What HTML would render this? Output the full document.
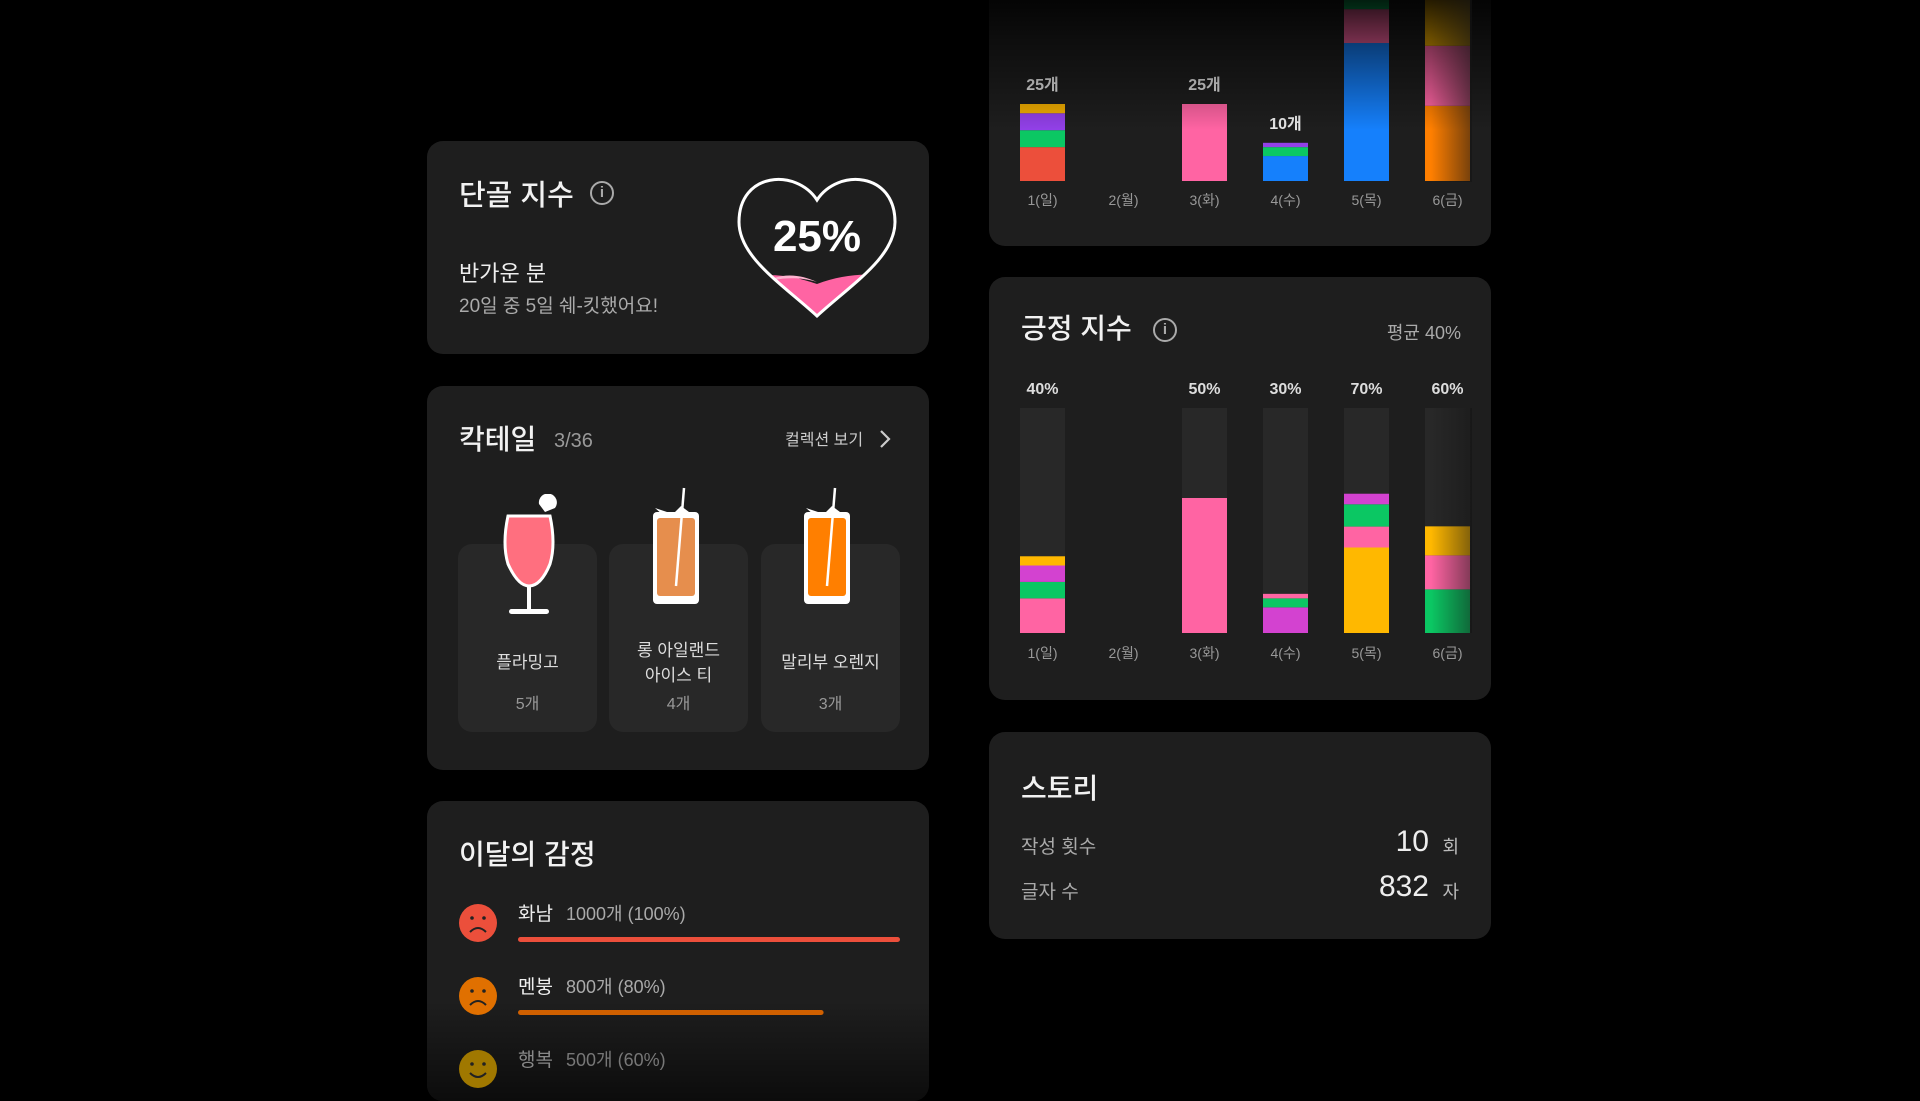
<!DOCTYPE html>
<html><head><meta charset="utf-8">
<style>
*{margin:0;padding:0;box-sizing:border-box}
body{width:1920px;height:1080px;background:#000;overflow:hidden;position:relative;font-family:"Liberation Sans","Noto Sans CJK KR",sans-serif;color:#fff}
.card{position:absolute;background:#1e1e1e;border-radius:16px;overflow:hidden}
.abs{position:absolute;white-space:nowrap}
.title{font-size:28px;color:#f2f2f2;font-weight:500}
.info{position:absolute;width:24px;height:24px;border:2px solid #aaa;border-radius:50%;color:#aaa;font-size:15px;text-align:center;line-height:20px;font-weight:bold}
.tile{position:absolute;top:158px;width:139px;height:188px;background:#282828;border-radius:14px}
.tname{position:absolute;width:139px;text-align:center;font-size:17px;color:#ddd;line-height:25px}
.tcnt{position:absolute;width:139px;text-align:center;font-size:16px;color:#999}
svg text{font-family:"Liberation Sans","Noto Sans CJK KR",sans-serif}
</style></head><body>

<!-- top chart card -->
<div class="card" style="left:989px;top:-20px;width:502px;height:266px;border-radius:0 0 16px 16px">
  <svg id="chart1" width="502" height="266" style="position:absolute;left:0;top:0"></svg>
  <div style="position:absolute;left:0;top:0;width:502px;height:150px;background:linear-gradient(#000 0%,rgba(0,0,0,0.55) 40%,rgba(0,0,0,0) 100%)"></div>
  <div style="position:absolute;left:442px;top:0;width:41px;height:202px;background:linear-gradient(90deg,rgba(30,30,30,0),rgba(20,20,20,0.6))"></div>
</div>

<!-- card 1 -->
<div class="card" style="left:427px;top:141px;width:502px;height:213px">
  <div class="abs title" style="left:32px;top:31px;font-size:29px">단골 지수</div>
  <div class="abs" style="left:163px;top:40px;width:24px;height:24px;border:2px solid #aaa;border-radius:50%;color:#aaa;font-size:15px;text-align:center;line-height:20px;font-weight:bold">i</div>
  <div class="abs" style="left:32px;top:115px;font-size:22px;color:#eee">반가운 분</div>
  <div class="abs" style="left:32px;top:150px;font-size:19px;color:#aaa">20일 중 5일 쉐-킷했어요!</div>
  <svg style="position:absolute;left:307px;top:31px" width="166" height="150">
    <defs><clipPath id="hc"><path d="M83,28 C62,-4 5,0 5,50 C5,85 48,112 83,144 C118,112 161,85 161,50 C161,0 104,-4 83,28 Z"/></clipPath></defs>
    <g clip-path="url(#hc)">
      <path d="M0,108 C30,100 55,102 83,112 C110,102 135,100 166,106 L166,150 L0,150 Z" fill="#ff64a3"/>
      <path d="M40,106 C55,101 70,104 83,110 C70,106 55,105 40,108Z" fill="#ffb3d0"/>
    </g>
    <path d="M83,28 C62,-4 5,0 5,50 C5,85 48,112 83,144 C118,112 161,85 161,50 C161,0 104,-4 83,28 Z" fill="none" stroke="#fff" stroke-width="3"/>
    <text x="83" y="79" text-anchor="middle" font-size="44" font-weight="bold" fill="#fff">25%</text>
  </svg>
</div>

<!-- cocktail card -->
<div class="card" style="left:427px;top:386px;width:502px;height:384px">
  <div class="abs title" style="left:32px;top:32px">칵테일</div>
  <div class="abs" style="left:127px;top:44px;font-size:20px;color:#999">3/36</div>
  <div class="abs" style="left:358px;top:40px;font-size:16px;color:#ccc">컬렉션 보기</div>
  <svg style="position:absolute;left:451px;top:43px" width="14" height="20"><path d="M3,2 L11,10 L3,18" stroke="#ccc" stroke-width="2.2" fill="none"/></svg>

  <div class="tile" style="left:31px"></div>
  <div class="tile" style="left:182px"></div>
  <div class="tile" style="left:334px"></div>

  <svg style="position:absolute;left:72px;top:108px" width="70" height="124">
    <path d="M40,10 A9,9 0 1 1 56,14 L46,18 Z" fill="#fff"/>
    <path d="M9,22 Q3,50 9,70 Q19,92 30,92 Q42,92 51,70 Q57,50 51,22 Z" fill="#ff6f7f" stroke="#fff" stroke-width="3"/>
    <rect x="28" y="92" width="4" height="26" fill="#fff"/>
    <rect x="10" y="115" width="40" height="5" rx="2.5" fill="#fff"/>
  </svg>
  <svg style="position:absolute;left:224px;top:100px" width="60" height="120">
    <path d="M4,22 L22,28 L30,20 L38,26 L20,36 Z" fill="#fff"/>
    <rect x="2" y="26" width="46" height="92" rx="4" fill="#fff"/>
    <rect x="6" y="32" width="38" height="78" rx="3" fill="#e68e4d"/>
    <path d="M33,2 L25,100" stroke="#fff" stroke-width="2.5"/>
  </svg>
  <svg style="position:absolute;left:375px;top:100px" width="60" height="120">
    <path d="M4,22 L22,28 L30,20 L38,26 L20,36 Z" fill="#fff"/>
    <rect x="2" y="26" width="46" height="92" rx="4" fill="#fff"/>
    <rect x="6" y="32" width="38" height="78" rx="3" fill="#ff7f00"/>
    <path d="M33,2 L25,100" stroke="#fff" stroke-width="2.5"/>
  </svg>

  <div class="tname" style="left:31px;top:264px">플라밍고</div>
  <div class="tname" style="left:182px;top:252px">롱 아일랜드<br>아이스 티</div>
  <div class="tname" style="left:334px;top:264px">말리부 오렌지</div>
  <div class="tcnt" style="left:31px;top:304px">5개</div>
  <div class="tcnt" style="left:182px;top:304px">4개</div>
  <div class="tcnt" style="left:334px;top:304px">3개</div>
</div>

<!-- emotion card -->
<div class="card" style="left:427px;top:801px;width:502px;height:300px">
  <div class="abs title" style="left:32px;top:32px">이달의 감정</div>
  <div style="position:absolute;left:0;top:200px;width:502px;height:100px;background:linear-gradient(rgba(0,0,0,0),rgba(0,0,0,0.6))"></div>
</div>
<svg id="emo" style="position:absolute;left:427px;top:880px" width="502" height="220"></svg>

<!-- positivity card -->
<div class="card" style="left:989px;top:277px;width:502px;height:423px">
  <div class="abs title" style="left:32px;top:30px">긍정 지수</div>
  <div class="info" style="left:164px;top:41px">i</div>
  <div class="abs" style="right:30px;top:42px;font-size:18px;color:#aaa">평균 40%</div>
  <svg id="chart2" width="502" height="423" style="position:absolute;left:0;top:0"></svg>
  <div style="position:absolute;left:442px;top:131px;width:41px;height:225px;background:linear-gradient(90deg,rgba(30,30,30,0),rgba(20,20,20,0.55))"></div>
</div>

<!-- story card -->
<div class="card" style="left:989px;top:732px;width:502px;height:207px">
  <div class="abs title" style="left:32px;top:35px">스토리</div>
  <div class="abs" style="left:32px;top:100px;font-size:19px;color:#aaa">작성 횟수</div>
  <div class="abs" style="right:62px;top:93px;font-size:30px;color:#eee">10</div>
  <div class="abs" style="right:32px;top:101px;font-size:18px;color:#bbb">회</div>
  <div class="abs" style="left:32px;top:145px;font-size:19px;color:#aaa">글자 수</div>
  <div class="abs" style="right:62px;top:138px;font-size:30px;color:#eee">832</div>
  <div class="abs" style="right:32px;top:146px;font-size:18px;color:#bbb">자</div>
</div>

<script>
// ---------- data ----------
const days = ["1(일)","2(월)","3(화)","4(수)","5(목)","6(금)"];
const countLabels = ["25개","","25개","10개","",""];
const countColors = ["#ec4f3b","#0bc763","#9240e8","#f2ae00","#ff64a3","#1580fc","#ff7f00","#a04068","#f2ae00"];
const countSegments = [
  [[0,11],[1,5.5],[2,5.5],[3,3]],
  [],
  [[4,25]],
  [[5,8.1],[1,2.9],[2,1.4]],
  [[5,44.8],[4,11],[1,20]],
  [[6,24.4],[4,19.5],[3,30]]
];
const posLabels = ["40%","","50%","30%","70%","60%"];
const posColors = ["#ff64a3","#0bc763","#d342d0","#ffb800"];
const posSegments = [
  [[0,15.4],[1,7.3],[2,7.3],[3,4.1]],
  [],
  [[0,60]],
  [[2,11.4],[1,4],[0,2]],
  [[3,38],[0,9.3],[1,9.9],[2,4.7]],
  [[1,19.4],[0,15.1],[3,12.9]]
];
const emoNames = ["화남","멘붕","행복"];
const emoCounts = ["1000개 (100%)","800개 (80%)","500개 (60%)"];
const emoValues = [100,80,60];
const emoColors = ["#ec4f3b","#d06000","#a07000"];
const emoFace = ["#ec4f3b","#e07000","#a07800"];

const NS="http://www.w3.org/2000/svg";
function mk(p,t,a){const e=document.createElementNS(NS,t);for(const k in a)e.setAttribute(k,a[k]);p.appendChild(e);return e;}
const xPos = i => 31 + i*81;
const BW = 45;

// chart 1
const c1=document.getElementById('chart1');
const base1=201, pxU=3.08;
const y1 = v => v*pxU;
days.forEach((d,i)=>{
  let y=base1;
  countSegments[i].forEach(([ci,v])=>{
    const h=y1(v); y-=h;
    const r=mk(c1,'rect',{x:xPos(i),y:y,width:BW,height:h,fill:countColors[ci]});
    
    
  });
  if(countLabels[i]){
    const t=mk(c1,'text',{x:xPos(i)+BW/2,y:y-14,'text-anchor':'middle','font-size':16,'font-weight':'bold',fill:'#e8e8e8'});
    t.textContent=countLabels[i];
    
    
  }
  const l=mk(c1,'text',{x:xPos(i)+BW/2,y:225,'text-anchor':'middle','font-size':14,fill:'#999'});
  l.textContent=d;
  
  
});

// chart 2
const c2=document.getElementById('chart2');
const top2=131, H2=225;
const y2 = v => v/100*H2;
days.forEach((d,i)=>{
  if(posSegments[i].length){
    const tr=mk(c2,'rect',{x:xPos(i),y:top2,width:BW,height:H2,fill:'#282828'});
    
    
  }
  let y=top2+H2;
  posSegments[i].forEach(([ci,v])=>{
    const h=y2(v); y-=h;
    const r=mk(c2,'rect',{x:xPos(i),y:y,width:BW,height:h,fill:posColors[ci]});
    
    
  });
  if(posLabels[i]){
    const t=mk(c2,'text',{x:xPos(i)+BW/2,y:117,'text-anchor':'middle','font-size':16,'font-weight':'bold',fill:'#ddd'});
    t.textContent=posLabels[i];
    
    
  }
  const l=mk(c2,'text',{x:xPos(i)+BW/2,y:381,'text-anchor':'middle','font-size':14,fill:'#999'});
  l.textContent=d;
  
  
});

// emotions
const em=document.getElementById('emo');
const barL=91, barW=382, rowH=73;
emoNames.forEach((n,i)=>{
  const oy=i*rowH;
  const c=mk(em,'circle',{cx:51,cy:43+oy,r:19,fill:emoFace[i]});
  
  
  if(i==2) mk(em,'path',{d:`M43,${47+oy} Q51,${55+oy} 59,${47+oy}`,stroke:'#222','stroke-width':2,fill:'none'});
  else mk(em,'path',{d:`M43,${52+oy} Q51,${44+oy} 59,${52+oy}`,stroke:'#222','stroke-width':2,fill:'none'});
  mk(em,'circle',{cx:45,cy:38+oy,r:1.8,fill:'#222'});
  mk(em,'circle',{cx:57,cy:38+oy,r:1.8,fill:'#222'});
  const t=mk(em,'text',{x:barL,y:40+oy,'font-size':19,fill:i==2?'#888':'#eee'});
  t.textContent=n;
  
  
  const t2=mk(em,'text',{x:barL+48,y:40+oy,'font-size':18,fill:i==2?'#777':'#aaa'});
  t2.textContent=emoCounts[i];
  
  
  if(i<2){
    const b=mk(em,'rect',{x:barL,y:57+oy,width:barW*emoValues[i]/100,height:5,rx:2.5,fill:emoColors[i]});
    
    
  }
});
</script>
</body></html>
